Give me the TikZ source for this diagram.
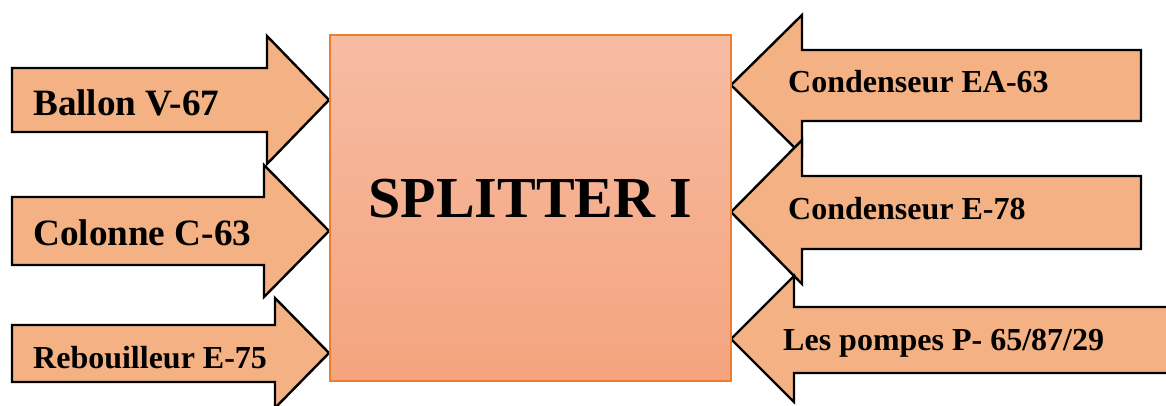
\documentclass[tikz,border=0pt]{standalone}
\usepackage{fontspec}
\setmainfont{Liberation Serif}
\definecolor{arrowfill}{HTML}{F4B183}
\definecolor{boxtop}{HTML}{F6BCA3}
\definecolor{boxbot}{HTML}{F4A47E}
\definecolor{boxline}{HTML}{ED7D31}
\tikzset{
  flowarrow/.style={fill=arrowfill, draw=black, line width=2.4pt, line join=miter},
  lbl/.style={anchor=base west, inner sep=0pt, font=\bfseries},
  mainbox/.style={draw=boxline, line width=1.2pt, top color=boxtop, bottom color=boxbot, shading angle=0}
}
\begin{document}
\begin{tikzpicture}[x=1pt, y=-1pt]
\useasboundingbox (0,0) rectangle (1166,405);
% left arrows
\draw[flowarrow] (12,68) -- (267,68) -- (267,36) -- (329,100) -- (267,164) -- (267,132) -- (12,132) -- cycle;
\draw[flowarrow] (12,197) -- (264,197) -- (264,165) -- (329,231) -- (264,297) -- (264,265) -- (12,265) -- cycle;
\draw[flowarrow] (12,325) -- (275,325) -- (275,298) -- (329,353) -- (275,408) -- (275,382) -- (12,382) -- cycle;
% right arrows
\draw[flowarrow] (1141,50) -- (802,50) -- (802,15) -- (731,85) -- (802,155) -- (802,121) -- (1141,121) -- cycle;
\draw[flowarrow] (1141,176) -- (802,176) -- (802,140) -- (731,212) -- (802,284) -- (802,249) -- (1141,249) -- cycle;
\draw[flowarrow] (1180,307) -- (794,307) -- (794,276) -- (731,339) -- (794,402) -- (794,373) -- (1180,373) -- cycle;
% main box
\path[mainbox] (330,35) rectangle (731,381);
\node[inner sep=0pt, anchor=base, font=\bfseries\fontsize{58}{62}\selectfont] (splitter) at (530.5,217) {SPLITTER I};
% labels
\node[lbl, font=\bfseries\fontsize{37.2}{40}\selectfont] (ballon) at (33,115) {Ballon V-67};
\node[lbl, font=\bfseries\fontsize{37.2}{40}\selectfont] (colonne) at (33,245) {Colonne C-63};
\node[lbl, font=\bfseries\fontsize{32}{36}\selectfont] (rebouilleur) at (33,368) {Rebouilleur E-75};
\node[lbl, font=\bfseries\fontsize{32}{36}\selectfont] (condea) at (788,92) {Condenseur EA-63};
\node[lbl, font=\bfseries\fontsize{32}{36}\selectfont] (conde) at (788,219) {Condenseur E-78};
\node[lbl, font=\bfseries\fontsize{32}{36}\selectfont] (pompes) at (783,350) {Les pompes P- 65/87/29};
\end{tikzpicture}
\end{document}
